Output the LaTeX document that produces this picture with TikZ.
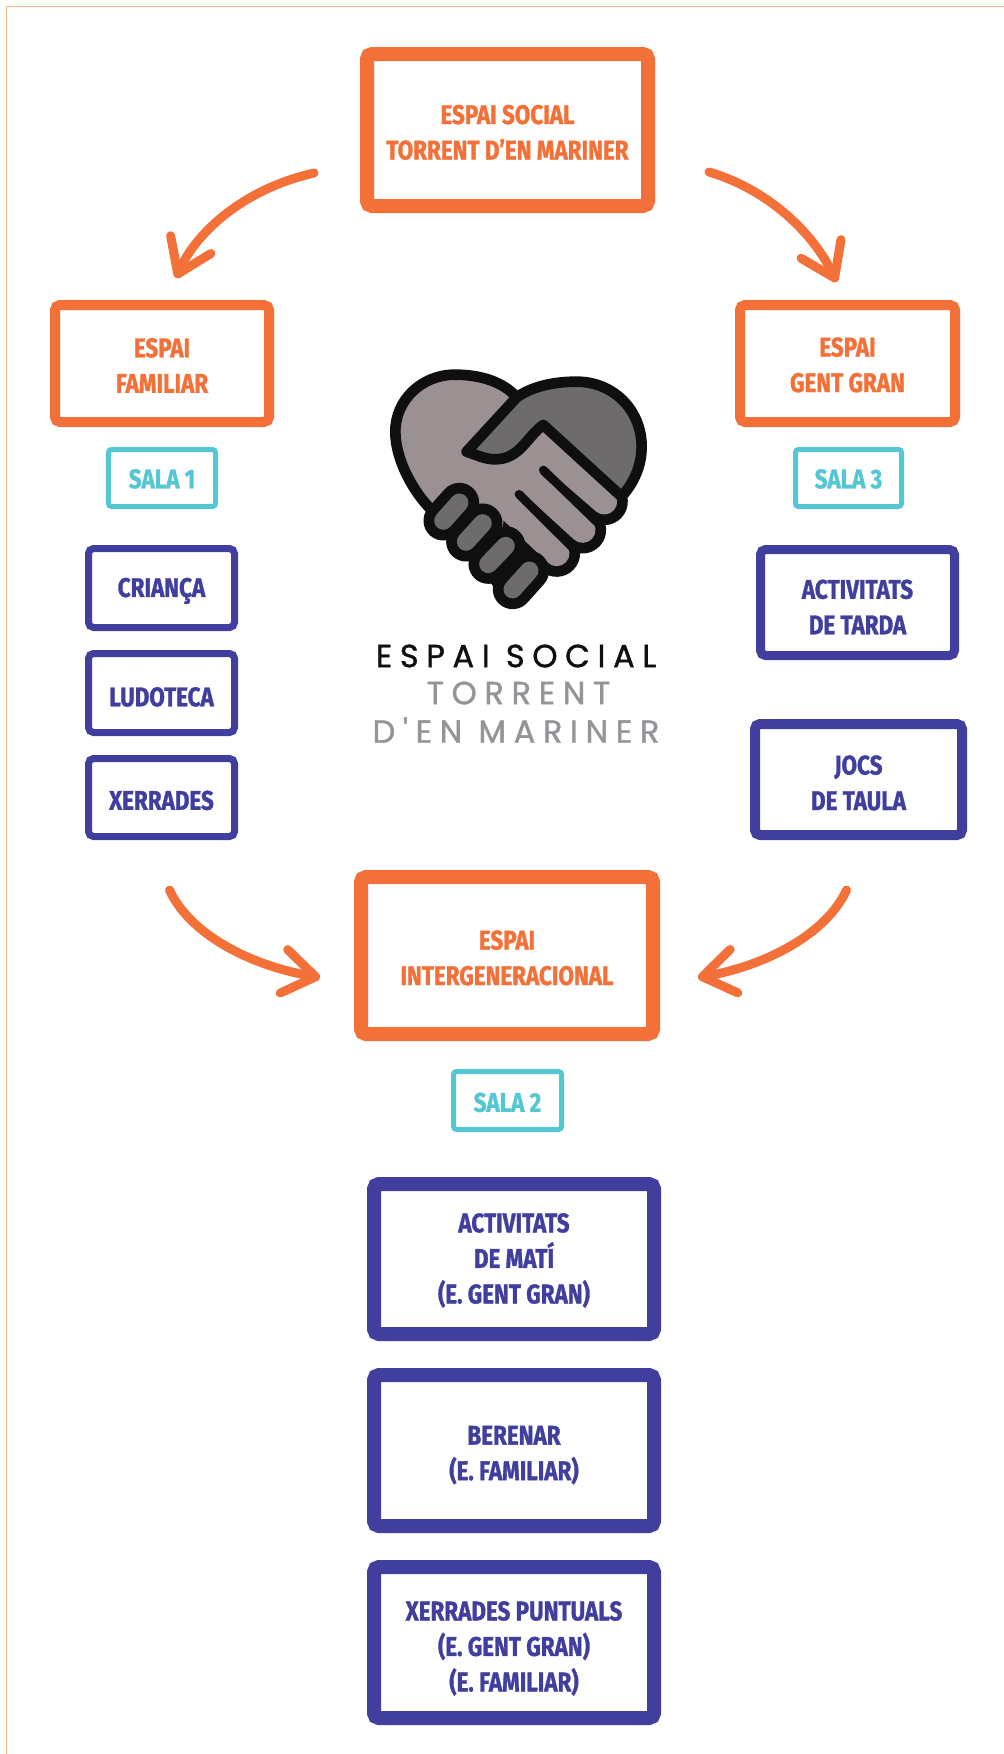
\documentclass[tikz,border=0pt]{standalone}
\usepackage{fontspec}
\usetikzlibrary{arrows.meta}
\setmainfont{Fira Sans}[BoldFeatures={FakeStretch=0.83,FakeBold=1.2}]
\newfontfamily\logofont{Poppins}[LetterSpace=24,FakeBold=1.2]
\definecolor{orangeC}{HTML}{F37038}
\definecolor{purpleC}{HTML}{403F9E}
\definecolor{tealC}{HTML}{55C6D3}
\definecolor{edgeC}{HTML}{F9B88A}
\definecolor{blackC}{HTML}{0F0F10}
\definecolor{lightC}{HTML}{9B9192}
\definecolor{darkC}{HTML}{6E6B6C}
\definecolor{logoG}{HTML}{939598}
\newcommand{\rulehigh}{25pt}
\tikzset{
  headroom/.code={\renewcommand{\rulehigh}{#1}},
  anybox/.style={draw,rectangle,inner sep=0pt,align=center,rounded corners=5pt,
    font=\fontsize{27}{35.5}\selectfont\bfseries,
    execute at begin node={\rule{0pt}{\rulehigh}}},
  obox/.style={anybox,draw=orangeC,text=orangeC},
  pbox/.style={anybox,draw=purpleC,text=purpleC},
  tbox/.style={anybox,draw=tealC,text=tealC,line width=5pt,rounded corners=3pt},
  flow/.style={draw=orangeC,line width=9pt,line cap=round,
    -{Straight Barb[round,length=32pt,width=44pt]}},
  logotext/.style={inner sep=0pt,font=\logofont\fontsize{32}{36}\selectfont},
}
\begin{document}
\begin{tikzpicture}[x=1pt,y=-1pt]
\useasboundingbox (0,0) rectangle (1004,1754);
\fill[white] (0,0) rectangle (1004,1754);
\draw[edgeC,line width=1.5pt] (6.5,1754) -- (6.5,6.7) -- (1004,6.7);

% boxes
\node[obox,headroom=59.5pt,line width=14pt,minimum width=281pt,minimum height=152pt] (top) at (507.5,130) {ESPAI SOCIAL\\TORRENT D'EN MARINER};
\node[obox,headroom=58.5pt,line width=10pt,minimum width=214pt,minimum height=117pt] (fam) at (162,363.5) {ESPAI\\FAMILIAR};
\node[obox,headroom=57.5pt,line width=10pt,minimum width=215pt,minimum height=117pt] (gent) at (847.5,363.5) {ESPAI\\GENT GRAN};
\node[tbox,headroom=21pt,minimum width=107pt,minimum height=57pt] (sala1) at (162,478) {SALA 1};
\node[tbox,headroom=21pt,minimum width=106pt,minimum height=57pt] (sala3) at (848.5,478) {SALA 3};
\node[pbox,line width=7pt,minimum width=146pt,minimum height=79pt] (crianca) at (161.5,588) {CRIANÇA};
\node[pbox,headroom=27pt,line width=7pt,minimum width=146pt,minimum height=79pt] (ludoteca) at (161.5,693) {LUDOTECA};
\node[pbox,line width=7pt,minimum width=146pt,minimum height=78pt] (xerrades) at (161.5,797.5) {XERRADES};
\node[pbox,headroom=63.5pt,line width=9pt,minimum width=194pt,minimum height=106pt] (tarda) at (857.5,602.5) {ACTIVITATS\\DE TARDA};
\node[pbox,headroom=61.5pt,line width=10pt,minimum width=207pt,minimum height=111pt] (jocs) at (858.5,779.5) {JOCS\\DE TAULA};
\node[obox,headroom=59.5pt,line width=14pt,minimum width=292pt,minimum height=157pt] (inter) at (507,955.5) {ESPAI\\INTERGENERACIONAL};
\node[tbox,headroom=23pt,minimum width=108pt,minimum height=58pt] (sala2) at (507.5,1100.5) {SALA 2};
\node[pbox,headroom=93pt,line width=14pt,minimum width=280pt,minimum height=150pt] (mati) at (514,1259) {ACTIVITATS\\DE MATÍ\\(E. GENT GRAN)};
\node[pbox,headroom=63.5pt,line width=14pt,minimum width=280pt,minimum height=151pt] (berenar) at (514,1450.5) {BERENAR\\(E. FAMILIAR)};
\node[pbox,headroom=102pt,line width=14pt,minimum width=280pt,minimum height=151pt] (punt) at (514,1642.5) {XERRADES PUNTUALS\\(E. GENT GRAN)\\(E. FAMILIAR)};

% connectors
\draw[flow] ([shift={(-46,43)}]top.west) .. controls ([shift={(-120,60)}]top.west) and ([shift={(33,-65)}]fam.north) .. ([shift={(14,-22)}]fam.north);
\draw[flow] ([shift={(54,42)}]top.east) .. controls ([shift={(115,60)}]top.east) and ([shift={(-33,-65)}]gent.north) .. ([shift={(-11,-18)}]gent.north);
\draw[flow] ([shift={(8,50)}]xerrades.south) .. controls ([shift={(28,94)}]xerrades.south) and ([shift={(-104,10)}]inter.west) .. ([shift={(-34,22)}]inter.west);
\draw[flow] ([shift={(-12,50)}]jocs.south) .. controls ([shift={(-32,94)}]jocs.south) and ([shift={(106,10)}]inter.east) .. ([shift={(38,22)}]inter.east);

% logo
\begin{scope}[shift={(340,340)},x=0.3333pt,y=-0.3333pt]
  \def\lw{10.67pt}
  % light hand
  \path[fill=lightC,draw=blackC,line width=\lw,line join=round]
    (530,172) .. controls (490,125) and (420,104) .. (345,104)
    .. controls (245,104) and (166,180) .. (166,275)
    .. controls (166,350) and (210,440) .. (265,500)
    -- (510,770) -- (650,640) -- (793,485) -- (610,255) -- cycle;
  % light fingers
  \draw[blackC,line width=47pt,line cap=round] (680,380) -- (793,485);
  \draw[blackC,line width=47pt,line cap=round] (620,470) -- (728,570);
  \draw[blackC,line width=47pt,line cap=round] (560,555) -- (650,640);
  \fill[lightC] (400,345) -- (560,280) -- (640,345) -- (470,560) -- (330,430) -- cycle;
  \draw[lightC,line width=25.7pt,line cap=round] (574,295) -- (793,485);
  \draw[lightC,line width=25.7pt,line cap=round] (520,380) -- (728,570);
  \draw[lightC,line width=25.7pt,line cap=round] (440,440) -- (650,640);
  % dark hand
  \path[fill=darkC,draw=blackC,line width=\lw,line join=round]
    (530,172) .. controls (575,140) and (640,125) .. (710,125)
    .. controls (820,125) and (905,210) .. (905,320)
    .. controls (905,380) and (880,430) .. (845,470)
    -- (610,255) .. controls (560,290) and (540,358) .. (465,358)
    .. controls (435,358) and (410,345) .. (380,335) -- cycle;
  % slits
  \draw[blackC,line width=8.7pt,line cap=round] (610,390) -- (775,550);
  \draw[blackC,line width=8.7pt,line cap=round] (537,463) -- (700,625);
  % dark fingers
  \foreach \a/\b/\c/\d in {310/542/358/488,378/605/428/550,445/672/497/618,518/748/568/692}{
    \draw[blackC,line width=39.7pt,line cap=round] (\a,\b) -- (\c,\d);
  }
  \foreach \a/\b/\c/\d in {310/542/358/488,378/605/428/550,445/672/497/618,518/748/568/692}{
    \draw[darkC,line width=18.3pt,line cap=round] (\a,\b) -- (\c,\d);
  }
\end{scope}
\node[logotext,text=blackC] (logo1) at (516,656) {ESPAI SOCIAL};
\node[logotext,text=logoG] (logo2) at (518.5,693) {TORRENT};
\node[logotext,text=logoG] (logo3) at (516,730) {D'EN MARINER};
\end{tikzpicture}
\end{document}
